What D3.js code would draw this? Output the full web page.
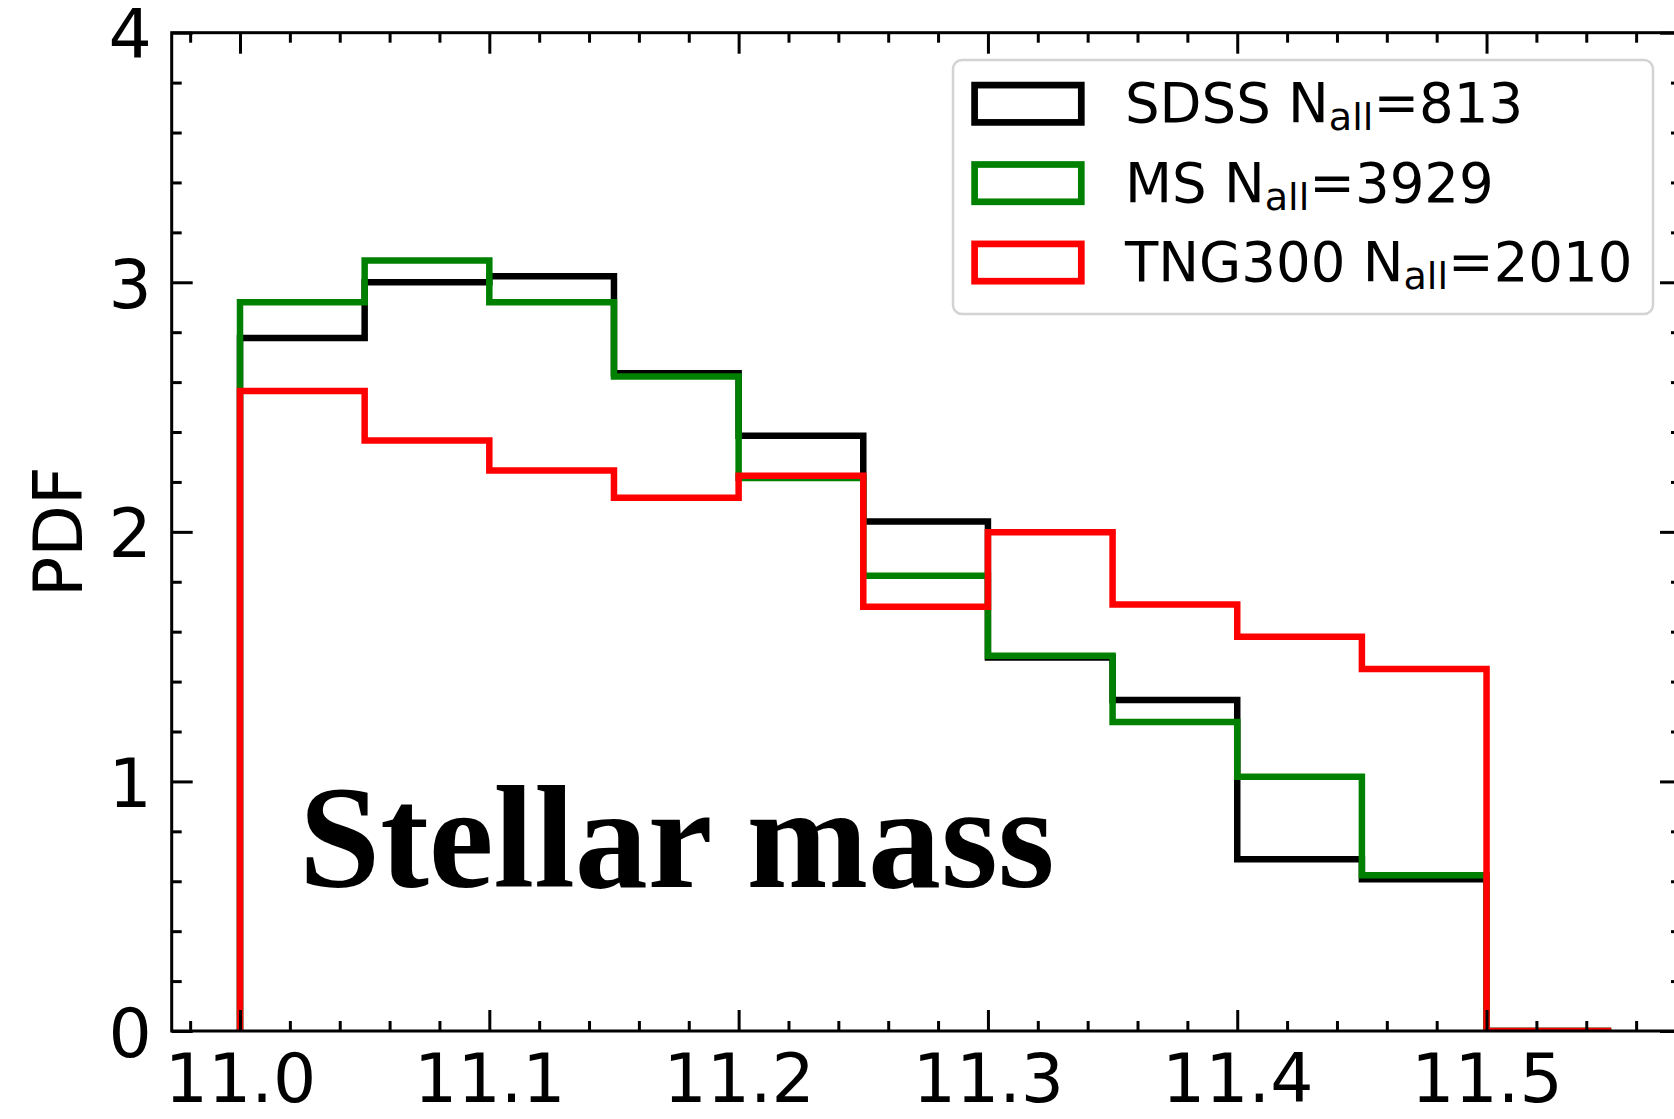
<!DOCTYPE html>
<html>
<head>
<meta charset="utf-8">
<script src="https://cdn.jsdelivr.net/npm/d3@7/dist/d3.min.js"></script>
<style>
  html, body { margin: 0; padding: 0; background: #ffffff; }
  svg { display: block; }
</style>
</head>
<body>
<svg id="chart" width="1674" height="1119"></svg>
<script>
// Histogram bin edges (log stellar mass)
const binEdges = [11.00, 11.05, 11.10, 11.15, 11.20, 11.25, 11.30, 11.35, 11.40, 11.45, 11.50, 11.55];

// Normalised counts per bin
const sdssPdf = [2.777, 3.000, 3.024, 2.635, 2.385, 2.041, 1.497, 1.326, 0.688, 0.608, 0.0];
const msPdf   = [2.920, 3.087, 2.920, 2.622, 2.216, 1.824, 1.504, 1.238, 1.019, 0.624, 0.0];
const tngPdf  = [2.564, 2.366, 2.246, 2.137, 2.225, 1.700, 1.998, 1.709, 1.580, 1.450, 0.0];

const seriesNames  = ["SDSS", "MS", "TNG300"];
const seriesCounts = [813, 3929, 2010];
const seriesColors = ["#000000", "#008000", "#ff0000"];
const seriesValues = [sdssPdf, msPdf, tngPdf];

const xTicks = [11.0, 11.1, 11.2, 11.3, 11.4, 11.5];
const yTicks = [0, 1, 2, 3, 4];

const svg = d3.select("#chart");

const plot = { left: 171.7, right: 1681, top: 32.7, bottom: 1031 };

const x = d3.scaleLinear().domain([10.9726, 11.578]).range([plot.left, plot.right]);
const y = d3.scaleLinear().domain([0, 4]).range([plot.bottom, plot.top]);

const tickFont = "'DejaVu Sans', sans-serif";
const tickSize = 68;
const majorLen = 21, minorLen = 10, tickWidth = 3;

svg.append("defs").append("clipPath").attr("id", "plot-clip")
  .append("rect")
  .attr("x", plot.left).attr("y", plot.top)
  .attr("width", plot.right - plot.left).attr("height", plot.bottom - plot.top);

// Step outlines of the histograms
const line = d3.line().x(d => x(d[0])).y(d => y(d[1]));
function stepPoints(vals) {
  const pts = [[binEdges[0], 0]];
  vals.forEach((v, i) => {
    pts.push([binEdges[i], v]);
    pts.push([binEdges[i + 1], v]);
  });
  pts.push([binEdges[binEdges.length - 1], 0]);
  return pts;
}

const hist = svg.append("g").attr("clip-path", "url(#plot-clip)");
seriesValues.forEach((vals, i) => {
  hist.append("path")
    .attr("d", line(stepPoints(vals)))
    .attr("fill", "none")
    .attr("stroke", seriesColors[i])
    .attr("stroke-width", 6.5)
    .attr("stroke-linejoin", "miter")
    .attr("stroke-linecap", "butt");
});

// Minor tick positions
const xMinor = d3.range(10.98, 11.575, 0.02).filter(v => !xTicks.some(t => Math.abs(t - v) < 1e-6));
const yMinor = d3.range(0.2, 4, 0.2).filter(v => !yTicks.some(t => Math.abs(t - v) < 1e-6));

function styleAxis(g) {
  g.select(".domain").remove();
  g.selectAll(".tick line").attr("stroke", "#000").attr("stroke-width", tickWidth);
}

// Bottom axis: inward ticks with labels
const gBottom = svg.append("g").attr("transform", `translate(0,${plot.bottom})`)
  .call(d3.axisBottom(x).tickValues(xTicks).tickSize(-majorLen).tickSizeOuter(0)
    .tickFormat(d3.format(".1f")));
styleAxis(gBottom);
gBottom.selectAll(".tick text")
  .attr("y", 71).attr("dy", 0)
  .attr("font-family", tickFont).attr("font-size", tickSize).attr("fill", "#000");
svg.append("g").attr("transform", `translate(0,${plot.bottom})`)
  .call(d3.axisBottom(x).tickValues(xMinor).tickSize(-minorLen).tickSizeOuter(0).tickFormat(""))
  .call(styleAxis);

// Top axis: inward ticks, no labels
svg.append("g").attr("transform", `translate(0,${plot.top})`)
  .call(d3.axisTop(x).tickValues(xTicks).tickSize(-majorLen).tickSizeOuter(0).tickFormat(""))
  .call(styleAxis);
svg.append("g").attr("transform", `translate(0,${plot.top})`)
  .call(d3.axisTop(x).tickValues(xMinor).tickSize(-minorLen).tickSizeOuter(0).tickFormat(""))
  .call(styleAxis);

// Left axis: inward ticks with labels
const gLeft = svg.append("g").attr("transform", `translate(${plot.left},0)`)
  .call(d3.axisLeft(y).tickValues(yTicks).tickSize(-majorLen).tickSizeOuter(0)
    .tickFormat(d3.format("d")));
styleAxis(gLeft);
gLeft.selectAll(".tick text")
  .attr("x", -20).attr("dy", 0).attr("y", 25)
  .attr("text-anchor", "end")
  .attr("font-family", tickFont).attr("font-size", tickSize).attr("fill", "#000");
svg.append("g").attr("transform", `translate(${plot.left},0)`)
  .call(d3.axisLeft(y).tickValues(yMinor).tickSize(-minorLen).tickSizeOuter(0).tickFormat(""))
  .call(styleAxis);

// Right axis: inward ticks, no labels
svg.append("g").attr("transform", `translate(${plot.right},0)`)
  .call(d3.axisRight(y).tickValues(yTicks).tickSize(-majorLen).tickSizeOuter(0).tickFormat(""))
  .call(styleAxis);
svg.append("g").attr("transform", `translate(${plot.right},0)`)
  .call(d3.axisRight(y).tickValues(yMinor).tickSize(-minorLen).tickSizeOuter(0).tickFormat(""))
  .call(styleAxis);

// Frame
svg.append("rect")
  .attr("x", plot.left).attr("y", plot.top)
  .attr("width", plot.right - plot.left).attr("height", plot.bottom - plot.top)
  .attr("fill", "none").attr("stroke", "#000").attr("stroke-width", 3);

// Y axis title
svg.append("text")
  .attr("transform", `translate(82,${(plot.top + plot.bottom) / 2}) rotate(-90)`)
  .attr("text-anchor", "middle")
  .attr("font-family", tickFont).attr("font-size", 67).attr("fill", "#000")
  .text("PDF");

// Panel annotation
svg.append("text")
  .attr("x", 299).attr("y", 887)
  .attr("font-family", "'Liberation Serif', 'Times New Roman', serif")
  .attr("font-weight", "bold").attr("font-size", 146).attr("fill", "#000")
  .text("Stellar mass");

// Legend
const legend = svg.append("g");
legend.append("rect")
  .attr("x", 953).attr("y", 60).attr("width", 700).attr("height", 254)
  .attr("rx", 9).attr("ry", 9)
  .attr("fill", "rgba(255,255,255,0.8)")
  .attr("stroke", "#d3d3d3").attr("stroke-width", 2.5);

const legendFont = 54.5;
const rowY = [103.8, 183.2, 262.6];
seriesNames.forEach((name, i) => {
  const cy = rowY[i];
  legend.append("rect")
    .attr("x", 974.6).attr("y", cy - 18.7).attr("width", 106.7).attr("height", 37.3)
    .attr("fill", "none").attr("stroke", seriesColors[i]).attr("stroke-width", 6.7);
  const t = legend.append("text")
    .attr("x", 1125).attr("y", cy + 18.5)
    .attr("font-family", tickFont).attr("font-size", legendFont).attr("fill", "#000");
  t.append("tspan").text(`${name} N`);
  t.append("tspan").attr("font-size", legendFont * 0.7).attr("dy", 8).text("all");
  t.append("tspan").attr("dy", -8).text(`=${seriesCounts[i]}`);
});
</script>
</body>
</html>
